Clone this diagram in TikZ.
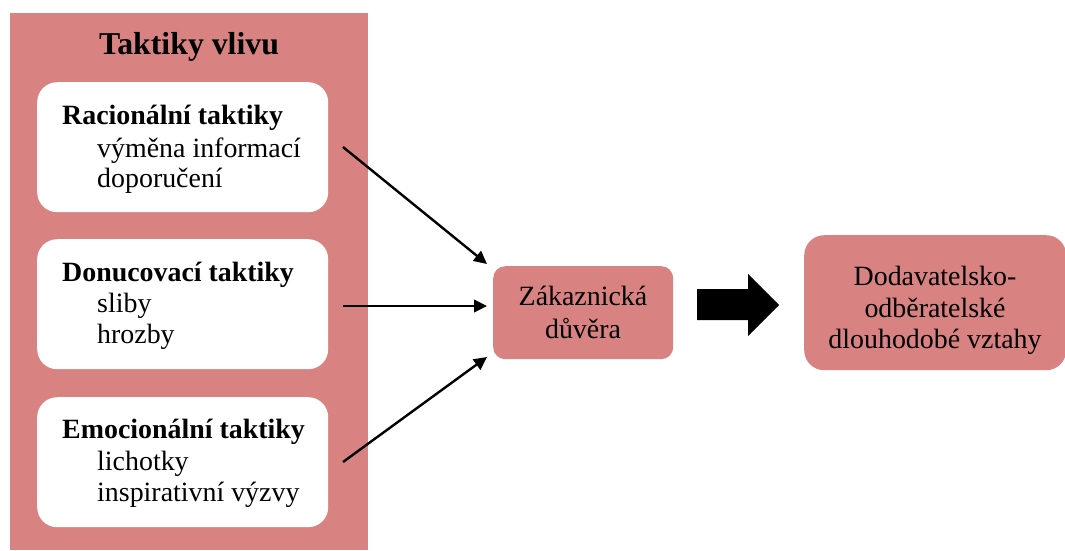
\documentclass[tikz,border=0pt]{standalone}
\usepackage{fontspec}
\setmainfont{Liberation Serif}
\usetikzlibrary{arrows.meta}
\definecolor{rose}{RGB}{217,130,130}

\begin{document}
\begin{tikzpicture}[x=1pt,y=-1pt,
  panel/.style={fill=rose, draw=none, inner sep=0pt, anchor=north west},
  card/.style={fill=white, draw=none, rounded corners=20pt, inner sep=0pt, anchor=north west},
  roseBox/.style={fill=rose, draw=none, inner sep=0pt, anchor=north west},
  txt/.style={inner sep=0pt, font=\fontsize{27.9}{31}\selectfont},
  head/.style={txt, anchor=base west, font=\fontsize{27.9}{31}\selectfont\bfseries},
  item/.style={txt, anchor=base west},
  ctr/.style={txt, anchor=base},
  link/.style={line width=2.4pt, -{Triangle[length=13pt,width=12.5pt]}}
]
\useasboundingbox (0,0) rectangle (1065,550);

% left panel with the three groups of tactics
\node[panel, minimum width=358pt, minimum height=537pt] (panel) at (10,13) {};
\node[txt, anchor=base, font=\fontsize{31.8}{36}\selectfont\bfseries] (title) at (189,54) {Taktiky vlivu};

\node[card, minimum width=291pt, minimum height=130pt] (rac) at (37,82) {};
\node[head] (racH) at (62,124) {Racionální taktiky};
\node[item] (rac1) at (97,157) {výměna informací};
\node[item] (rac2) at (97,187) {doporučení};

\node[card, minimum width=291pt, minimum height=130pt] (don) at (37,239) {};
\node[head] (donH) at (62,281) {Donucovací taktiky};
\node[item] (don1) at (97,312) {sliby};
\node[item] (don2) at (97,343) {hrozby};

\node[card, minimum width=291pt, minimum height=130pt] (emo) at (37,397) {};
\node[head] (emoH) at (62,438) {Emocionální taktiky};
\node[item] (emo1) at (97,470) {lichotky};
\node[item] (emo2) at (97,501) {inspirativní výzvy};

% customer trust
\node[roseBox, rounded corners=12pt, minimum width=180pt, minimum height=93pt] (trust) at (493,266) {};
\node[ctr] (trust1) at (583,305) {Zákaznická};
\node[ctr] (trust2) at (583,338) {důvěra};

% long-term relationships
\node[roseBox, rounded corners=20pt, minimum width=262pt, minimum height=135pt] (rel) at (804,235) {};
\node[ctr] (rel1) at (935,285) {Dodavatelsko-};
\node[ctr] (rel2) at (935,317) {odběratelské};
\node[ctr] (rel3) at (935,348) {dlouhodobé vztahy};

% connectors
\coordinate (s1) at (343,147);
\coordinate (s2) at (343,306);
\coordinate (s3) at (343,462);
\coordinate (e1) at (487,264);
\coordinate (e2) at (487,306);
\coordinate (e3) at (487,357);
\draw[link] (s1) -- (e1);
\draw[link] (s2) -- (e2);
\draw[link] (s3) -- (e3);

% block arrow towards the relationships
\fill[black] (697,289) -- (748,289) -- (748,274) -- (779,305) -- (748,336) -- (748,320) -- (697,320) -- cycle;
\end{tikzpicture}
\end{document}
